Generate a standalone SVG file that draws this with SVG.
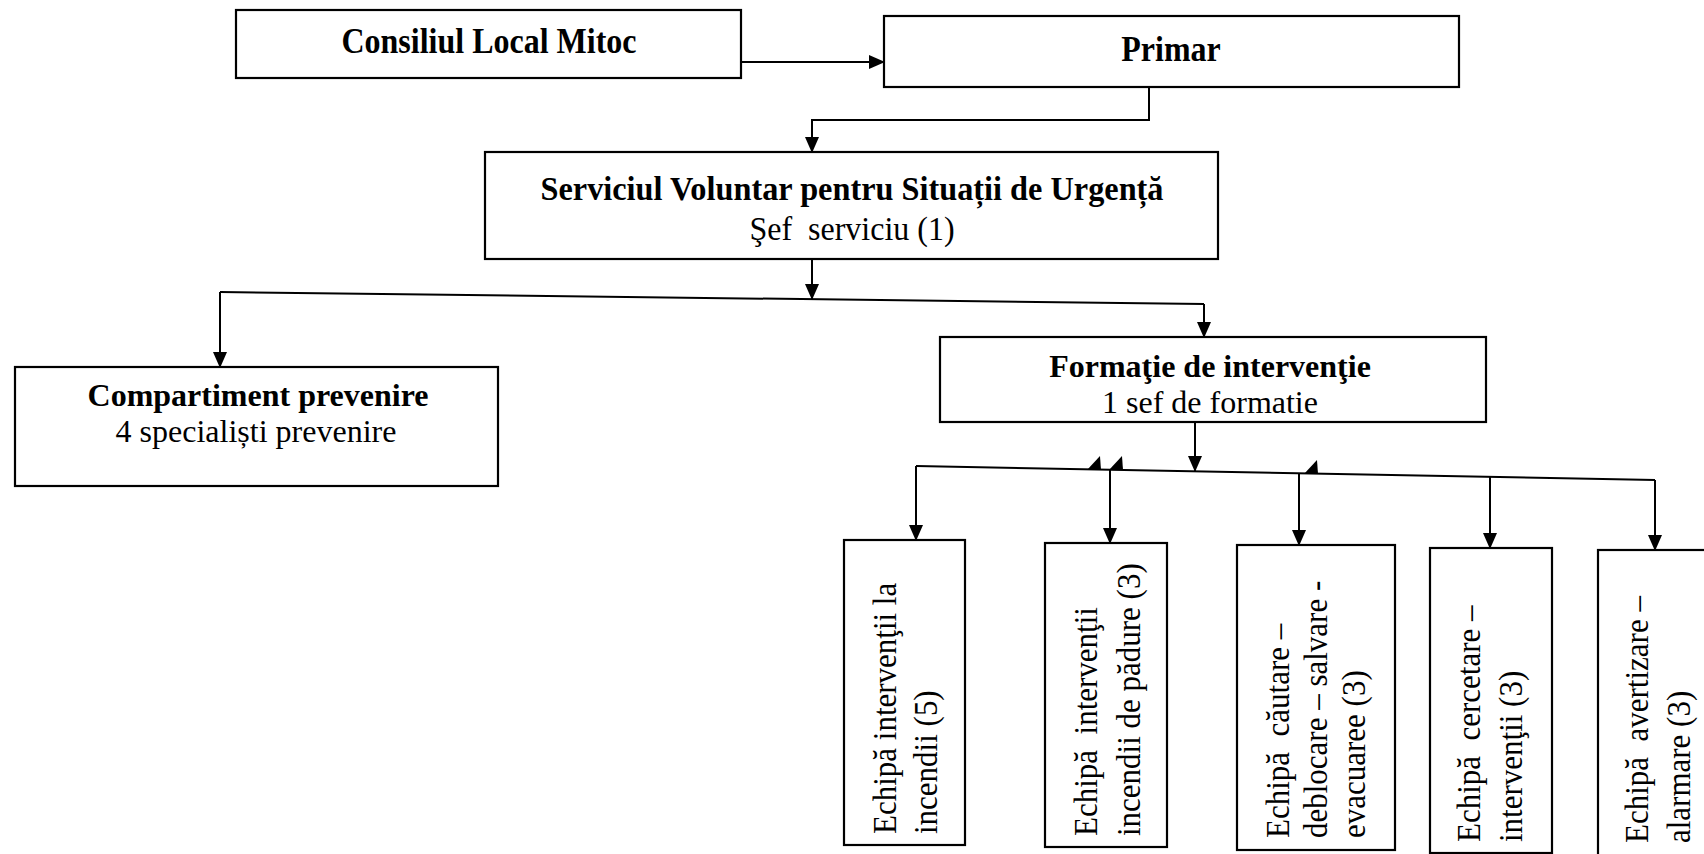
<svg xmlns="http://www.w3.org/2000/svg" width="1704" height="854" viewBox="0 0 1704 854">
<defs>
<marker id="ah" markerUnits="userSpaceOnUse" markerWidth="16" markerHeight="14" refX="15" refY="7" orient="auto">
<path d="M0,0 L16,7 L0,14 Z" fill="#000"/>
</marker>
<style>
.box{fill:#fff;stroke:#000;stroke-width:2.2}
.ln{fill:none;stroke:#000;stroke-width:2}
.b{font-family:"Liberation Serif","Times New Roman",serif;font-weight:bold;font-size:32px;fill:#000;text-anchor:middle}
.r{font-family:"Liberation Serif","Times New Roman",serif;font-size:32px;fill:#000;text-anchor:middle;white-space:pre}
.v{font-family:"Liberation Serif","Times New Roman",serif;font-size:31px;fill:#000;white-space:pre}
</style>
</defs>
<rect width="1704" height="854" fill="#fff"/>

<g id="connectors">
<line class="ln" x1="741" y1="62" x2="884" y2="62" marker-end="url(#ah)"/>
<polyline class="ln" points="1149,87 1149,120 812,120 812,152" marker-end="url(#ah)"/>
<line class="ln" x1="812" y1="259" x2="812" y2="299" marker-end="url(#ah)"/>
<line class="ln" x1="220" y1="292" x2="1204" y2="304"/>
<line class="ln" x1="220" y1="292" x2="220" y2="367" marker-end="url(#ah)"/>
<line class="ln" x1="1204" y1="304" x2="1204" y2="337" marker-end="url(#ah)"/>
<line class="ln" x1="1195" y1="422" x2="1195" y2="471" marker-end="url(#ah)"/>
<line class="ln" x1="916" y1="466" x2="1655" y2="480"/>
<line class="ln" x1="916" y1="466" x2="916" y2="540" marker-end="url(#ah)"/>
<line class="ln" x1="1110" y1="470" x2="1110" y2="543" marker-end="url(#ah)"/>
<line class="ln" x1="1299" y1="473" x2="1299" y2="545" marker-end="url(#ah)"/>
<line class="ln" x1="1490" y1="477" x2="1490" y2="548" marker-end="url(#ah)"/>
<line class="ln" x1="1655" y1="480" x2="1655" y2="550" marker-end="url(#ah)"/>
<path d="M1087,470 L1100,456 L1101,470 Z" fill="#000"/>
<path d="M1109,470 L1122,456 L1123,470 Z" fill="#000"/>
<path d="M1304,474 L1317,460 L1318,474 Z" fill="#000"/>
</g>

<g id="consiliul">
<rect class="box" x="236" y="10" width="505" height="68"/>
<text class="b" transform="translate(489,53) scale(1,1.12)">Consiliul Local Mitoc</text>
</g>
<g id="primar">
<rect class="box" x="884" y="16" width="575" height="71"/>
<text class="b" transform="translate(1171,61) scale(1,1.12)">Primar</text>
</g>
<g id="serviciul">
<rect class="box" x="485" y="152" width="733" height="107"/>
<text class="b" transform="translate(852,200) scale(1,1.08)" textLength="623" lengthAdjust="spacingAndGlyphs">Serviciul Voluntar pentru Situații de Urgență</text>
<text class="r" transform="translate(852,240) scale(1,1.08)">Şef  serviciu (1)</text>
</g>
<g id="compartiment">
<rect class="box" x="15" y="367" width="483" height="119"/>
<text class="b" x="258" y="406">Compartiment prevenire</text>
<text class="r" x="256" y="442">4 specialiști prevenire</text>
</g>
<g id="formatie">
<rect class="box" x="940" y="337" width="546" height="85"/>
<text class="b" x="1210" y="377">Formaţie de intervenţie</text>
<text class="r" x="1210" y="413">1 sef de formatie</text>
</g>
<g id="echipa1">
<rect class="box" x="844" y="540" width="121" height="305"/>
<text class="v" transform="translate(896,834) rotate(-90) scale(1,1.08)">Echipă intervenţii la</text>
<text class="v" transform="translate(937,834) rotate(-90) scale(1,1.08)">incendii (5)</text>
</g>
<g id="echipa2">
<rect class="box" x="1045" y="543" width="122" height="304"/>
<text class="v" transform="translate(1097,836) rotate(-90) scale(1,1.08)">Echipă  intervenţii</text>
<text class="v" transform="translate(1140,836) rotate(-90) scale(1,1.08)">incendii de pădure (3)</text>
</g>
<g id="echipa3">
<rect class="box" x="1237" y="545" width="158" height="305"/>
<text class="v" transform="translate(1289,838) rotate(-90) scale(1,1.08)">Echipă  căutare –</text>
<text class="v" transform="translate(1327,838) rotate(-90) scale(1,1.08)">deblocare – salvare -</text>
<text class="v" transform="translate(1365,838) rotate(-90) scale(1,1.08)">evacuaree (3)</text>
</g>
<g id="echipa4">
<rect class="box" x="1430" y="548" width="122" height="305"/>
<text class="v" transform="translate(1480,842) rotate(-90) scale(1,1.08)">Echipă  cercetare –</text>
<text class="v" transform="translate(1522,842) rotate(-90) scale(1,1.08)">intervenţii (3)</text>
</g>
<g id="echipa5">
<rect class="box" x="1598" y="550" width="130" height="310"/>
<text class="v" transform="translate(1648,843) rotate(-90) scale(1,1.08)">Echipă  avertizare –</text>
<text class="v" transform="translate(1690,843) rotate(-90) scale(1,1.08)">alarmare (3)</text>
</g>
</svg>
